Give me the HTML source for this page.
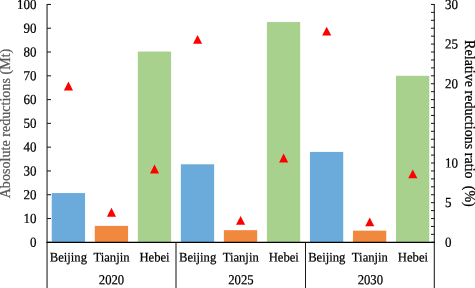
<!DOCTYPE html>
<html><head><meta charset="utf-8"><title>chart</title>
<style>
html,body{margin:0;padding:0;background:#fff;}
svg{display:block}
.t{font-family:"Liberation Serif","Times New Roman",serif;font-size:12.67px;fill:#000;stroke:#000;stroke-width:0.22px}
.k{font-size:13px}
.tt{font-family:"Liberation Serif","Times New Roman",serif;font-size:14px}
</style></head><body>
<svg width="475" height="288" viewBox="0 0 475 288">
<rect width="475" height="288" fill="#fff"/>
<rect x="51.75" y="193.07" width="33.3" height="48.93" fill="#6aabdc"/>
<rect x="94.78" y="225.89" width="33.3" height="16.11" fill="#f0883e"/>
<rect x="137.81" y="51.54" width="33.3" height="190.46" fill="#a9d18e"/>
<rect x="180.84" y="164.29" width="33.3" height="77.71" fill="#6aabdc"/>
<rect x="223.87" y="230.17" width="33.3" height="11.83" fill="#f0883e"/>
<rect x="266.90" y="22.05" width="33.3" height="219.95" fill="#a9d18e"/>
<rect x="309.93" y="151.92" width="33.3" height="90.08" fill="#6aabdc"/>
<rect x="352.96" y="230.65" width="33.3" height="11.35" fill="#f0883e"/>
<rect x="395.99" y="75.81" width="33.3" height="166.19" fill="#a9d18e"/>
<line x1="47.05" y1="3.90" x2="47.05" y2="288" stroke="#1a1a1a" stroke-width="1.05"/>
<line x1="434.3" y1="3.90" x2="434.3" y2="288" stroke="#1a1a1a" stroke-width="1.05"/>
<line x1="47.05" y1="242.30" x2="51" y2="242.30" stroke="#1a1a1a" stroke-width="1.05"/>
<text transform="translate(36.6,246.75) rotate(0.03) scale(1,1.07)" text-anchor="end" class="t k">0</text>
<line x1="47.05" y1="218.52" x2="51" y2="218.52" stroke="#1a1a1a" stroke-width="1.05"/>
<text transform="translate(36.6,222.97) rotate(0.03) scale(1,1.07)" text-anchor="end" class="t k">10</text>
<line x1="47.05" y1="194.73" x2="51" y2="194.73" stroke="#1a1a1a" stroke-width="1.05"/>
<text transform="translate(36.6,199.18) rotate(0.03) scale(1,1.07)" text-anchor="end" class="t k">20</text>
<line x1="47.05" y1="170.94" x2="51" y2="170.94" stroke="#1a1a1a" stroke-width="1.05"/>
<text transform="translate(36.6,175.39) rotate(0.03) scale(1,1.07)" text-anchor="end" class="t k">30</text>
<line x1="47.05" y1="147.16" x2="51" y2="147.16" stroke="#1a1a1a" stroke-width="1.05"/>
<text transform="translate(36.6,151.61) rotate(0.03) scale(1,1.07)" text-anchor="end" class="t k">40</text>
<line x1="47.05" y1="123.38" x2="51" y2="123.38" stroke="#1a1a1a" stroke-width="1.05"/>
<text transform="translate(36.6,127.83) rotate(0.03) scale(1,1.07)" text-anchor="end" class="t k">50</text>
<line x1="47.05" y1="99.59" x2="51" y2="99.59" stroke="#1a1a1a" stroke-width="1.05"/>
<text transform="translate(36.6,104.04) rotate(0.03) scale(1,1.07)" text-anchor="end" class="t k">60</text>
<line x1="47.05" y1="75.81" x2="51" y2="75.81" stroke="#1a1a1a" stroke-width="1.05"/>
<text transform="translate(36.6,80.26) rotate(0.03) scale(1,1.07)" text-anchor="end" class="t k">70</text>
<line x1="47.05" y1="52.02" x2="51" y2="52.02" stroke="#1a1a1a" stroke-width="1.05"/>
<text transform="translate(36.6,56.47) rotate(0.03) scale(1,1.07)" text-anchor="end" class="t k">80</text>
<line x1="47.05" y1="28.23" x2="51" y2="28.23" stroke="#1a1a1a" stroke-width="1.05"/>
<text transform="translate(36.6,32.68) rotate(0.03) scale(1,1.07)" text-anchor="end" class="t k">90</text>
<line x1="47.05" y1="4.45" x2="51" y2="4.45" stroke="#1a1a1a" stroke-width="1.05"/>
<text transform="translate(36.6,8.90) rotate(0.03) scale(1,1.07)" text-anchor="end" class="t k">100</text>
<line x1="434.3" y1="242.30" x2="431" y2="242.30" stroke="#1a1a1a" stroke-width="1.05"/>
<text transform="translate(445.0,246.75) rotate(0.03) scale(1,1.07)" class="t k">0</text>
<line x1="434.3" y1="234.37" x2="431" y2="234.37" stroke="#1a1a1a" stroke-width="1.05"/>
<line x1="434.3" y1="226.44" x2="431" y2="226.44" stroke="#1a1a1a" stroke-width="1.05"/>
<line x1="434.3" y1="218.52" x2="431" y2="218.52" stroke="#1a1a1a" stroke-width="1.05"/>
<line x1="434.3" y1="210.59" x2="431" y2="210.59" stroke="#1a1a1a" stroke-width="1.05"/>
<line x1="434.3" y1="202.66" x2="431" y2="202.66" stroke="#1a1a1a" stroke-width="1.05"/>
<text transform="translate(445.0,207.11) rotate(0.03) scale(1,1.07)" class="t k">5</text>
<line x1="434.3" y1="194.73" x2="431" y2="194.73" stroke="#1a1a1a" stroke-width="1.05"/>
<line x1="434.3" y1="186.80" x2="431" y2="186.80" stroke="#1a1a1a" stroke-width="1.05"/>
<line x1="434.3" y1="178.87" x2="431" y2="178.87" stroke="#1a1a1a" stroke-width="1.05"/>
<line x1="434.3" y1="170.94" x2="431" y2="170.94" stroke="#1a1a1a" stroke-width="1.05"/>
<line x1="434.3" y1="163.02" x2="431" y2="163.02" stroke="#1a1a1a" stroke-width="1.05"/>
<text transform="translate(445.0,167.47) rotate(0.03) scale(1,1.07)" class="t k">10</text>
<line x1="434.3" y1="155.09" x2="431" y2="155.09" stroke="#1a1a1a" stroke-width="1.05"/>
<line x1="434.3" y1="147.16" x2="431" y2="147.16" stroke="#1a1a1a" stroke-width="1.05"/>
<line x1="434.3" y1="139.23" x2="431" y2="139.23" stroke="#1a1a1a" stroke-width="1.05"/>
<line x1="434.3" y1="131.30" x2="431" y2="131.30" stroke="#1a1a1a" stroke-width="1.05"/>
<line x1="434.3" y1="123.38" x2="431" y2="123.38" stroke="#1a1a1a" stroke-width="1.05"/>
<line x1="434.3" y1="115.45" x2="431" y2="115.45" stroke="#1a1a1a" stroke-width="1.05"/>
<line x1="434.3" y1="107.52" x2="431" y2="107.52" stroke="#1a1a1a" stroke-width="1.05"/>
<line x1="434.3" y1="99.59" x2="431" y2="99.59" stroke="#1a1a1a" stroke-width="1.05"/>
<line x1="434.3" y1="91.66" x2="431" y2="91.66" stroke="#1a1a1a" stroke-width="1.05"/>
<line x1="434.3" y1="83.73" x2="431" y2="83.73" stroke="#1a1a1a" stroke-width="1.05"/>
<text transform="translate(445.0,88.18) rotate(0.03) scale(1,1.07)" class="t k">20</text>
<line x1="434.3" y1="75.81" x2="431" y2="75.81" stroke="#1a1a1a" stroke-width="1.05"/>
<line x1="434.3" y1="67.88" x2="431" y2="67.88" stroke="#1a1a1a" stroke-width="1.05"/>
<line x1="434.3" y1="59.95" x2="431" y2="59.95" stroke="#1a1a1a" stroke-width="1.05"/>
<line x1="434.3" y1="52.02" x2="431" y2="52.02" stroke="#1a1a1a" stroke-width="1.05"/>
<line x1="434.3" y1="44.09" x2="431" y2="44.09" stroke="#1a1a1a" stroke-width="1.05"/>
<text transform="translate(445.0,48.54) rotate(0.03) scale(1,1.07)" class="t k">25</text>
<line x1="434.3" y1="36.16" x2="431" y2="36.16" stroke="#1a1a1a" stroke-width="1.05"/>
<line x1="434.3" y1="28.23" x2="431" y2="28.23" stroke="#1a1a1a" stroke-width="1.05"/>
<line x1="434.3" y1="20.31" x2="431" y2="20.31" stroke="#1a1a1a" stroke-width="1.05"/>
<line x1="434.3" y1="12.38" x2="431" y2="12.38" stroke="#1a1a1a" stroke-width="1.05"/>
<line x1="434.3" y1="4.45" x2="431" y2="4.45" stroke="#1a1a1a" stroke-width="1.05"/>
<text transform="translate(445.0,8.90) rotate(0.03) scale(1,1.07)" class="t k">30</text>
<line x1="46.5" y1="242.3" x2="434.85" y2="242.3" stroke="#000" stroke-width="1.2"/>
<line x1="176.0" y1="242.3" x2="176.0" y2="288" stroke="#1a1a1a" stroke-width="1.05"/>
<line x1="305.5" y1="242.3" x2="305.5" y2="288" stroke="#1a1a1a" stroke-width="1.05"/>
<text transform="translate(68.40,261.6) rotate(0.03) scale(1,1.04)" text-anchor="middle" class="t">Beijing</text>
<text transform="translate(111.47,261.6) rotate(0.03) scale(1,1.04)" text-anchor="middle" class="t">Tianjin</text>
<text transform="translate(154.53,261.6) rotate(0.03) scale(1,1.04)" text-anchor="middle" class="t">Hebei</text>
<text transform="translate(197.60,261.6) rotate(0.03) scale(1,1.04)" text-anchor="middle" class="t">Beijing</text>
<text transform="translate(240.67,261.6) rotate(0.03) scale(1,1.04)" text-anchor="middle" class="t">Tianjin</text>
<text transform="translate(283.74,261.6) rotate(0.03) scale(1,1.04)" text-anchor="middle" class="t">Hebei</text>
<text transform="translate(326.80,261.6) rotate(0.03) scale(1,1.04)" text-anchor="middle" class="t">Beijing</text>
<text transform="translate(369.87,261.6) rotate(0.03) scale(1,1.04)" text-anchor="middle" class="t">Tianjin</text>
<text transform="translate(412.94,261.6) rotate(0.03) scale(1,1.04)" text-anchor="middle" class="t">Hebei</text>
<text transform="translate(111.50,284.35) rotate(0.03) scale(1,1.09)" text-anchor="middle" class="t">2020</text>
<text transform="translate(240.90,284.35) rotate(0.03) scale(1,1.09)" text-anchor="middle" class="t">2025</text>
<text transform="translate(370.30,284.35) rotate(0.03) scale(1,1.09)" text-anchor="middle" class="t">2030</text>
<polygon points="68.45,81.60 63.90,90.45 73.00,90.45" fill="#ff0000"/>
<polygon points="111.49,207.80 106.94,216.65 116.04,216.65" fill="#ff0000"/>
<polygon points="154.53,164.60 149.98,173.45 159.08,173.45" fill="#ff0000"/>
<polygon points="197.57,34.90 193.02,43.75 202.12,43.75" fill="#ff0000"/>
<polygon points="240.61,216.00 236.06,224.85 245.16,224.85" fill="#ff0000"/>
<polygon points="283.65,153.60 279.10,162.45 288.20,162.45" fill="#ff0000"/>
<polygon points="326.69,26.70 322.14,35.55 331.24,35.55" fill="#ff0000"/>
<polygon points="369.73,217.50 365.18,226.35 374.28,226.35" fill="#ff0000"/>
<polygon points="412.77,169.50 408.22,178.35 417.32,178.35" fill="#ff0000"/>
<text transform="translate(10.3,198.3) rotate(-90)" textLength="149.6" class="tt" fill="#595959" stroke="#595959" stroke-width="0.25">Abosolute reductions (Mt)</text>
<text transform="translate(464.5,40.1) rotate(90)" textLength="166.7" class="tt" fill="#000" stroke="#000" stroke-width="0.25" xml:space="preserve">Relative reductions ratio  (%)</text>
</svg>
</body></html>
